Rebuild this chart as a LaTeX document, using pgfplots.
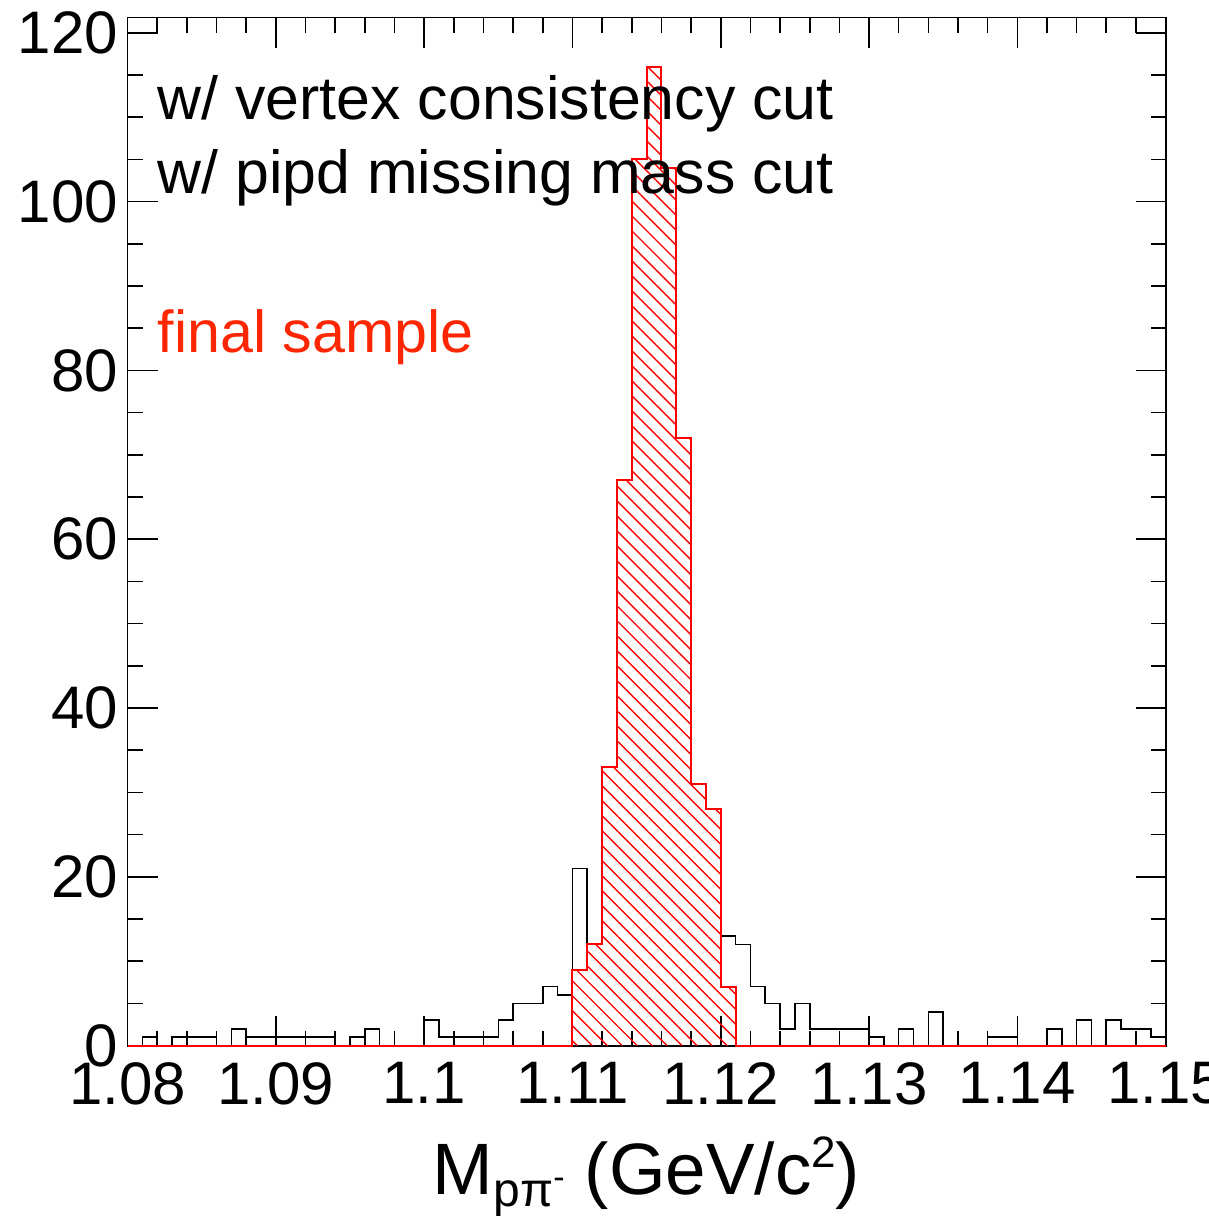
\documentclass[border=0pt]{standalone}
\usepackage{pgfplots}
\pgfplotsset{compat=1.18}
\usepackage{fontspec}
\setmainfont{Liberation Sans}
\usetikzlibrary{patterns.meta}
\definecolor{txtred}{RGB}{255,38,0}
\begin{document}
\begin{tikzpicture}
\begin{axis}[
  name=ax,
  scale only axis,
  width=259.5pt, height=257pt,
  xmin=1.08, xmax=1.15, ymin=0, ymax=121.8,
  clip=false,
  axis line style={line width=0.45pt},
  tick align=inside,
  major tick length=7.5pt, minor tick length=3.75pt,
  tick style={black, line width=0.4pt},
  xtick={1.08,1.09,1.1,1.11,1.12,1.13,1.14,1.15},
  xticklabels={1.08,1.09,1.1,1.11,1.12,1.13,1.14,1.15},
  minor x tick num=4,
  ytick={0,20,40,60,80,100,120},
  minor y tick num=3,
  /pgf/number format/assume math mode=true,
  ticklabel style={font=\fontsize{15}{18}\selectfont},
  xticklabel style={anchor=north, inner sep=0pt, yshift=-4pt},
  yticklabel style={anchor=east, inner sep=0pt, xshift=-2.2pt},
]
% black histogram (before final cut)
\addplot[black, line width=0.4pt, const plot mark left] coordinates {
(1.080,0)(1.081,1)(1.082,0)(1.083,1)(1.084,1)(1.085,1)(1.086,0)(1.087,2)(1.088,1)(1.089,1)
(1.090,1)(1.091,1)(1.092,1)(1.093,1)(1.094,0)(1.095,1)(1.096,2)(1.097,0)(1.098,0)(1.099,0)
(1.100,3)(1.101,1)(1.102,1)(1.103,1)(1.104,1)(1.105,3)(1.106,5)(1.107,5)(1.108,7)(1.109,6)
(1.110,21)(1.111,12)(1.112,33)(1.113,67)(1.114,105)(1.115,116)(1.116,104)(1.117,72)(1.118,31)(1.119,28)
(1.120,13)(1.121,12)(1.122,7)(1.123,5)(1.124,2)(1.125,5)(1.126,2)(1.127,2)(1.128,2)(1.129,2)
(1.130,1)(1.131,0)(1.132,2)(1.133,0)(1.134,4)(1.135,0)(1.136,0)(1.137,0)(1.138,1)(1.139,1)
(1.140,0)(1.141,0)(1.142,2)(1.143,0)(1.144,3)(1.145,0)(1.146,3)(1.147,2)(1.148,2)(1.149,1)
(1.150,1)
};
% red hatched fill (final sample)
\addplot[draw=none, pattern={Lines[angle=-45,distance=2.65pt,line width=0.35pt]}, pattern color=red, const plot mark left] coordinates {
(1.110,9)(1.111,12)(1.112,33)(1.113,67)(1.114,105)(1.115,116)(1.116,104)(1.117,72)(1.118,31)(1.119,28)(1.120,7)(1.121,7)
} \closedcycle;
% red outline
\addplot[red, line width=0.5pt, const plot mark left] coordinates {
(1.080,0)(1.110,9)(1.111,12)(1.112,33)(1.113,67)(1.114,105)(1.115,116)(1.116,104)(1.117,72)(1.118,31)(1.119,28)(1.120,7)(1.121,0)(1.150,0)
};
\node[anchor=base west, inner sep=0pt, font=\fontsize{15.2}{18}\selectfont] at (axis cs:1.08198,109.7) {w/ vertex consistency cut};
\node[anchor=base west, inner sep=0pt, font=\fontsize{15.2}{18}\selectfont] at (axis cs:1.08198,101.0) {w/ pipd missing mass cut};
\node[anchor=base west, inner sep=0pt, text=txtred, font=\fontsize{14.8}{18}\selectfont] at (axis cs:1.08198,82.1) {final sample};
\end{axis}
\node[anchor=base, inner sep=0pt, yshift=-37.3pt, font=\fontsize{18.2}{22}\selectfont] at (ax.south)
 {M\raisebox{-2.8pt}{\fontsize{12}{12}\selectfont pπ\raisebox{4.5pt}{\fontsize{8.5}{8}\selectfont -}} (GeV/c\raisebox{6.75pt}{\fontsize{11}{11}\selectfont 2})};
\pgfresetboundingbox
\path[use as bounding box] ([shift={(-31.9pt,-43.1pt)}]ax.south west) rectangle ([shift={(270.3pt,261.4pt)}]ax.south west);
\end{tikzpicture}
\end{document}
